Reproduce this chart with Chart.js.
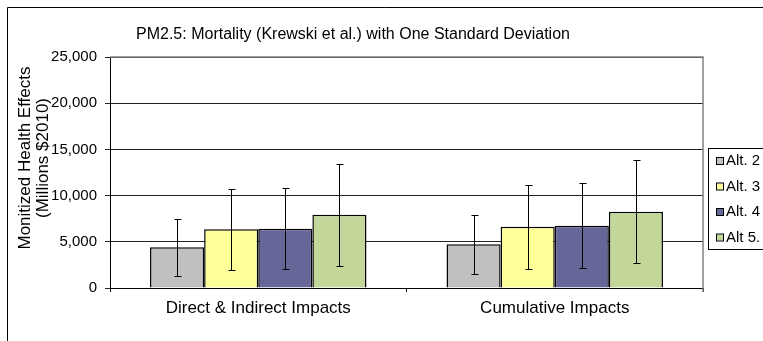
<!DOCTYPE html>
<html>
<head>
<meta charset="utf-8">
<script src="https://cdn.jsdelivr.net/npm/chart.js@4"></script>
<style>
  html, body { margin: 0; padding: 0; background: #fff; }
  #wrap { width: 763px; height: 341px; position: relative; }
</style>
</head>
<body>
<div id="wrap"><canvas id="myChart" width="763" height="341"></canvas></div>
<script>
const categories = ["Direct & Indirect Impacts", "Cumulative Impacts"];
const seriesNames = ["Alt. 2", "Alt. 3", "Alt. 4", "Alt 5."];
const seriesColors = ["#C0C0C0", "#FFFF99", "#666699", "#C4D79B"];

// mean values (millions $2010)
const alt2 = [4400, 4730];
const alt3 = [6350, 6630];
const alt4 = [6420, 6740];
const alt5 = [7930, 8260];

// one standard deviation
const sd2 = [3120, 3200];
const sd3 = [4400, 4520];
const sd4 = [4400, 4600];
const sd5 = [5500, 5580];

const yTicks = [0, 5000, 10000, 15000, 20000, 25000];

const chartTitle = "PM2.5: Mortality (Krewski et al.) with One Standard Deviation";
const yTitle = ["Monitized Health Effects", "(Millions $2010)"];

const FONT = "Arial, 'Liberation Sans', sans-serif";
const values = [alt2, alt3, alt4, alt5];
const sds = [sd2, sd3, sd4, sd5];

// error bars, frame, titles and legend
const extras = {
  id: "extras",
  beforeDraw(chart) {
    const ctx = chart.ctx;
    ctx.save();
    ctx.strokeStyle = "#000";
    ctx.lineWidth = 1;
    ctx.beginPath();
    ctx.moveTo(7.5, 341);
    ctx.lineTo(7.5, 7.5);
    ctx.lineTo(763, 7.5);
    ctx.stroke();
    ctx.restore();
  },
  afterDraw(chart) {
    const ctx = chart.ctx;
    const y = chart.scales.y;
    const area = chart.chartArea;
    ctx.save();

    // plot border (top / right)
    ctx.strokeStyle = "#808080";
    ctx.lineWidth = 1.5;
    ctx.beginPath();
    ctx.moveTo(area.left, area.top);
    ctx.lineTo(area.right, area.top);
    ctx.lineTo(area.right, area.bottom + 4);
    ctx.stroke();

    // error bars
    ctx.strokeStyle = "#000";
    ctx.lineWidth = 1;
    chart.data.datasets.forEach((ds, i) => {
      const meta = chart.getDatasetMeta(i);
      meta.data.forEach((bar, j) => {
        const v = values[i][j], s = sds[i][j];
        const x = Math.round(bar.x) + 0.5;
        const yt = Math.round(y.getPixelForValue(v + s)) + 0.5;
        const yb = Math.round(y.getPixelForValue(v - s)) + 0.5;
        ctx.beginPath();
        ctx.moveTo(x, yt); ctx.lineTo(x, yb);
        ctx.moveTo(x - 3, yt); ctx.lineTo(x + 4, yt);
        ctx.moveTo(x - 3, yb); ctx.lineTo(x + 4, yb);
        ctx.stroke();
      });
    });

    // chart title
    ctx.fillStyle = "#000";
    ctx.font = "16px " + FONT;
    ctx.textAlign = "center";
    ctx.textBaseline = "middle";
    ctx.fillText(chartTitle, 353, 35);

    // y axis title
    ctx.font = "17px " + FONT;
    ctx.save();
    ctx.translate(25, 158);
    ctx.rotate(-Math.PI / 2);
    ctx.fillText(yTitle[0], 0, 0);
    ctx.fillText(yTitle[1], 0, 18);
    ctx.restore();

    // legend
    ctx.font = "15px " + FONT;
    ctx.strokeStyle = "#000";
    ctx.lineWidth = 1;
    ctx.strokeRect(708.5, 148.5, 80, 101);
    ctx.textAlign = "left";
    chart.data.datasets.forEach((ds, i) => {
      const cy = 161 + i * 25.5;
      ctx.fillStyle = ds.backgroundColor;
      ctx.fillRect(717, cy - 3, 6, 6);
      ctx.strokeRect(716.5, cy - 3.5, 7, 7);
      ctx.fillStyle = "#000";
      ctx.fillText(ds.label, 726, cy);
    });
    ctx.restore();
  }
};

new Chart(document.getElementById("myChart"), {
  type: "bar",
  data: {
    labels: categories,
    datasets: seriesNames.map((name, i) => ({
      label: name,
      data: values[i],
      backgroundColor: seriesColors[i],
      borderColor: "#000",
      borderWidth: 1.5,
      categoryPercentage: 0.73,
      barPercentage: 1
    }))
  },
  options: {
    responsive: false,
    animation: false,
    devicePixelRatio: 1,
    layout: { padding: { top: 57, right: 60, left: 0, bottom: 0 } },
    plugins: { legend: { display: false }, title: { display: false }, tooltip: { enabled: false } },
    scales: {
      x: {
        afterFit(scale) { scale.height = 53; },
        grid: { offset: true, drawOnChartArea: false, color: "#000", tickLength: 4 },
        border: { color: "#000", width: 1 },
        ticks: { color: "#000", font: { family: FONT, size: 17 }, padding: 6, maxRotation: 0 }
      },
      y: {
        min: 0,
        max: 25000,
        afterFit(scale) { scale.width = 110; },
        afterBuildTicks(scale) { scale.ticks = yTicks.map(v => ({ value: v })); },
        grid: { color: "#222", lineWidth: 1, tickLength: 5 },
        border: { color: "#000", width: 1 },
        ticks: {
          color: "#000",
          font: { family: FONT, size: 15 },
          padding: 8,
          callback: v => v.toLocaleString("en-US")
        }
      }
    }
  },
  plugins: [extras]
});
</script>
</body>
</html>
